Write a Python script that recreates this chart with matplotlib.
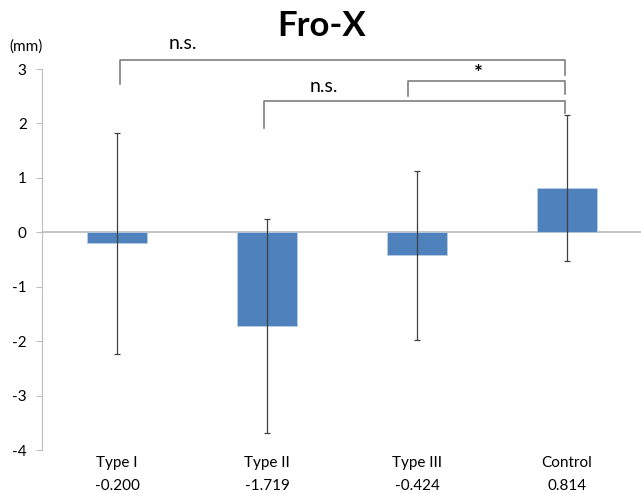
import matplotlib.pyplot as plt

# data
groups = ['Type I', 'Type II', 'Type III', 'Control']
means = [-0.200, -1.719, -0.424, 0.814]
sds = [2.03, 1.97, 1.55, 1.34]
value_labels = ['-0.200', '-1.719', '-0.424', '0.814']

# significance brackets: (left idx, right idx, bar height, left leg end, right leg end, label)
brackets = [
    (0, 3, 3.16, 2.72, 2.89, 'n.s.'),
    (1, 3, 2.41, 1.91, 2.20, 'n.s.'),
    (2, 3, 2.78, 2.50, 2.55, '*'),
]

plt.rcParams['font.family'] = ['Lato', 'DejaVu Sans']
plt.rcParams['axes.unicode_minus'] = False

fig = plt.figure(figsize=(6.41, 4.93), dpi=100)
ax = fig.add_axes([0.0655, 0.087, 0.936, 0.773])

x = list(range(len(groups)))
ax.bar(x, means, width=0.40, color='#4F81BD', edgecolor='#B9CDE5', linewidth=0.6, zorder=2)
ax.errorbar(x, means, yerr=sds, fmt='none', ecolor='#404040', elinewidth=0.9,
            capsize=2.5, capthick=0.9, zorder=3)

ax.axhline(0, color='#BFBFBF', linewidth=1.3, zorder=1)

ax.set_xlim(-0.5, 3.5)
ax.set_ylim(-4, 3)
ax.set_yticks(range(-4, 4))
ax.tick_params(axis='y', direction='out', length=4, color='#BFBFBF', labelsize=11, pad=7)
ax.set_xticks(x)
ax.set_xticklabels([g + '\n' + v for g, v in zip(groups, value_labels)], fontsize=11,
                   linespacing=1.85)
ax.tick_params(axis='x', length=0, pad=4)

for s in ['top', 'right', 'bottom']:
    ax.spines[s].set_visible(False)
ax.spines['left'].set_color('#BFBFBF')

# brackets
offsets = {0: 0.02, 1: -0.02, 2: -0.06}
for i, j, h, yl, yr, lab in brackets:
    xl = i + offsets[i]
    xr = j - 0.01
    ax.plot([xl, xl, xr, xr], [yl, h, h, yr], color='#7F7F7F', linewidth=1.2,
            clip_on=False, zorder=4)

fig.text(0.285, 0.912, 'n.s.', fontsize=14, ha='center', va='center')
fig.text(0.505, 0.825, 'n.s.', fontsize=14, ha='center', va='center')
fig.text(0.747, 0.850, '*', fontsize=15, ha='center', va='center', fontweight='bold')

fig.text(0.501, 0.947, 'Fro-X', fontsize=25, fontweight='bold', ha='center', va='center')
fig.text(0.04, 0.905, '(mm)', fontsize=11, ha='center', va='center')

fig.savefig('out.png', dpi=100)
